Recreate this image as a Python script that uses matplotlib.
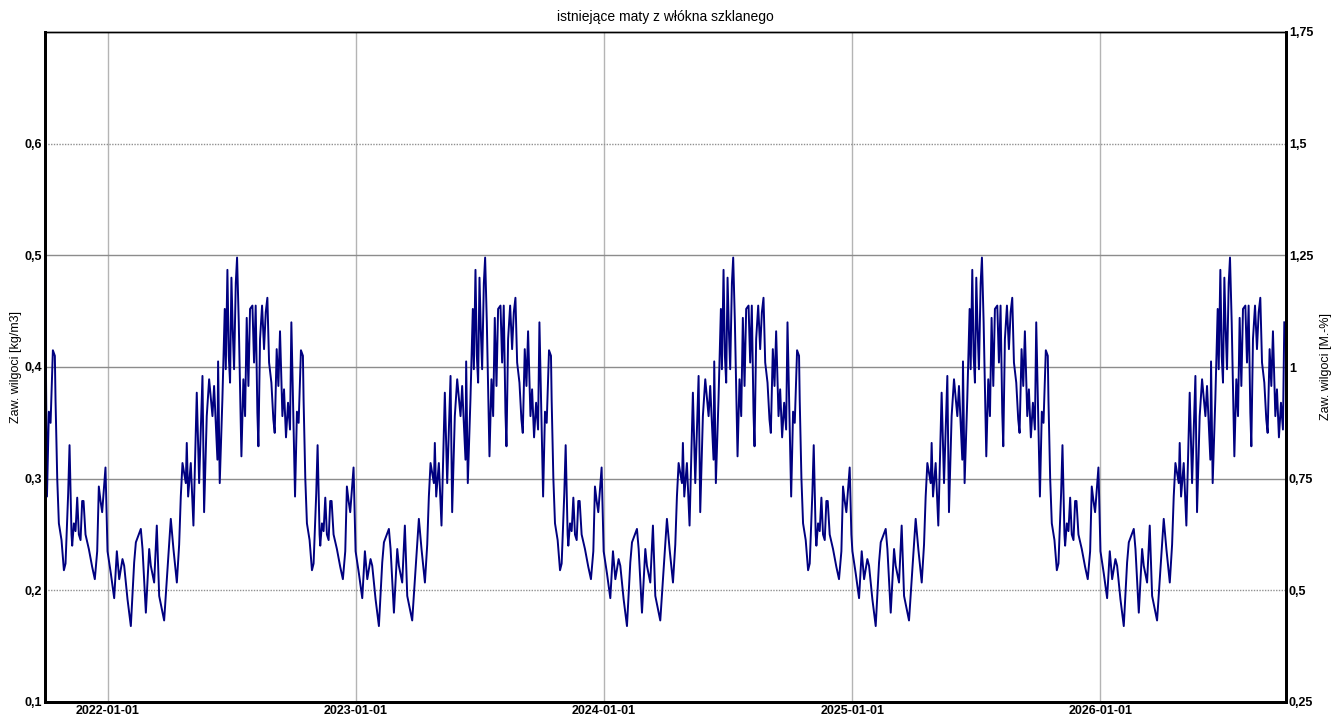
import datetime as dt
import matplotlib
matplotlib.use("Agg")
import matplotlib.pyplot as plt
import matplotlib.dates as mdates

# one-year moisture profile (day of year, kg/m3), same every year
prof_day = [0, 4.9, 9.8, 13.7, 17.2, 22, 24.5, 29.4, 34.3, 39.2, 41.7, 49, 51.5, 56.4,
            61.3, 63.7, 68.6, 72.5, 76, 83.3, 88.2, 93.1, 97, 102, 105.4, 107.8, 110.3,
            115.2, 116.6, 118.6, 122.5, 126.4, 131.3, 134.8, 139.7, 142.1, 146, 149.5,
            154.4, 156.8, 161.7, 162.7, 165.1, 169, 172.5, 174, 176.4, 178.4, 180.3,
            182.3, 184.2, 186.2, 188.7, 190.6, 193.1, 195, 197, 199.9, 202.4, 204.8,
            207.3, 209.7, 213.2, 215.6, 218, 220.5, 222, 224.4, 227.4, 230.3, 232.8,
            235.2, 237.7, 241.1, 244, 246, 248.9, 251.4, 253.8, 257.3, 259.7, 262.6,
            265.6, 268.5, 270.5, 273.4, 275.9, 278.7, 281.2, 284.6, 287.5, 288.5, 291,
            293.4, 297.3, 300.8, 303.2, 307.1, 309.1, 312, 313, 315.5, 317.9, 320.4,
            322.8, 325.3, 327.7, 329.7, 332.6, 337.5, 342.4, 346.3, 349.8, 352.2, 354.7,
            357.1, 359.6, 362, 364.5]
prof_val = [0.235, 0.215, 0.193, 0.235, 0.21, 0.228, 0.222, 0.192, 0.168, 0.225, 0.243,
            0.255, 0.237, 0.18, 0.237, 0.222, 0.207, 0.258, 0.195, 0.173, 0.219, 0.264,
            0.237, 0.207, 0.241, 0.284, 0.314, 0.296, 0.332, 0.284, 0.314, 0.258, 0.377,
            0.296, 0.392, 0.27, 0.356, 0.389, 0.356, 0.383, 0.317, 0.405, 0.296, 0.371,
            0.452, 0.398, 0.487, 0.41, 0.386, 0.48, 0.434, 0.398, 0.475, 0.498, 0.44,
            0.38, 0.32, 0.389, 0.356, 0.444, 0.383, 0.452, 0.455, 0.404, 0.455, 0.359,
            0.329, 0.425, 0.455, 0.416, 0.449, 0.462, 0.404, 0.386, 0.353, 0.341, 0.416,
            0.383, 0.432, 0.356, 0.38, 0.337, 0.368, 0.344, 0.44, 0.356, 0.284, 0.36,
            0.35, 0.415, 0.41, 0.37, 0.30, 0.26, 0.245, 0.218, 0.224, 0.287, 0.33, 0.25,
            0.24, 0.26, 0.253, 0.283, 0.25, 0.245, 0.28, 0.28, 0.25, 0.237, 0.221, 0.21,
            0.235, 0.293, 0.28, 0.27, 0.29, 0.31, 0.25]

years = [2021, 2022, 2023, 2024, 2025, 2026]
start = dt.datetime(2021, 10, 1)
end = dt.datetime(2026, 9, 29)
start_val = 0.505  # initial condition

dates = [start]
vals = [start_val]
for y in years:
    for d, v in zip(prof_day, prof_val):
        t = dt.datetime(y, 1, 1) + dt.timedelta(days=d)
        if start + dt.timedelta(days=2) <= t <= end:
            dates.append(t)
            vals.append(v)

W, H = 1332, 718
fig = plt.figure(figsize=(W / 100, H / 100), dpi=100)
ax = fig.add_axes([45 / W, 1 - 702 / H, (1286 - 45) / W, (702 - 32) / H])
ax2 = ax.twinx()

ax.plot(dates, vals, color="#000080", lw=1.4, zorder=3)

ax.set_ylim(0.1, 0.7)
ax.set_xlim(dt.datetime(2021, 10, 1), dt.datetime(2026, 10, 1))
ax2.set_ylim(0.25, 1.75)

lticks = [0.1, 0.2, 0.3, 0.4, 0.5, 0.6]
rticks = [0.25, 0.5, 0.75, 1.0, 1.25, 1.5, 1.75]
ax.set_yticks(lticks)
ax.set_yticklabels([("%g" % t).replace(".", ",") for t in lticks])
ax2.set_yticks(rticks)
ax2.set_yticklabels([("%g" % t).replace(".", ",") for t in rticks])

xt = [dt.datetime(y, 1, 1) for y in years[1:]]
ax.set_xticks(xt)
ax.xaxis.set_major_formatter(mdates.DateFormatter("%Y-%m-%d"))

for a in (ax, ax2):
    a.tick_params(length=0, pad=2, labelsize=9)
    for lab in a.get_xticklabels() + a.get_yticklabels():
        lab.set_fontweight("bold")
        lab.set_family("Liberation Sans")

# grid
for x in xt:
    ax.axvline(x, color="#b4b4b4", lw=1.0, zorder=1)
for t in lticks[1:]:
    if t in (0.2, 0.6):
        ax.axhline(t, color="#909090", lw=1.0, ls=(0, (1, 1)), zorder=1)
    else:
        ax.axhline(t, color="#8c8c8c", lw=1.0, zorder=1)

for a in (ax, ax2):
    a.spines["left"].set_linewidth(2)
    a.spines["right"].set_linewidth(2)
    a.spines["bottom"].set_linewidth(2)
    a.spines["top"].set_linewidth(1)

ax.set_ylabel("Zaw. wilgoci [kg/m3]", fontsize=9, family="Liberation Sans")
ax.yaxis.set_label_coords(-0.0185, 0.5)
ax2.set_ylabel("Zaw. wilgoci [M.-%]", fontsize=9, family="Liberation Sans")
ax2.yaxis.set_label_coords(1.027, 0.5)
ax.set_title("istniejące maty z włókna szklanego", fontsize=10, family="Liberation Sans", pad=8)

fig.savefig("out.png", dpi=100)
